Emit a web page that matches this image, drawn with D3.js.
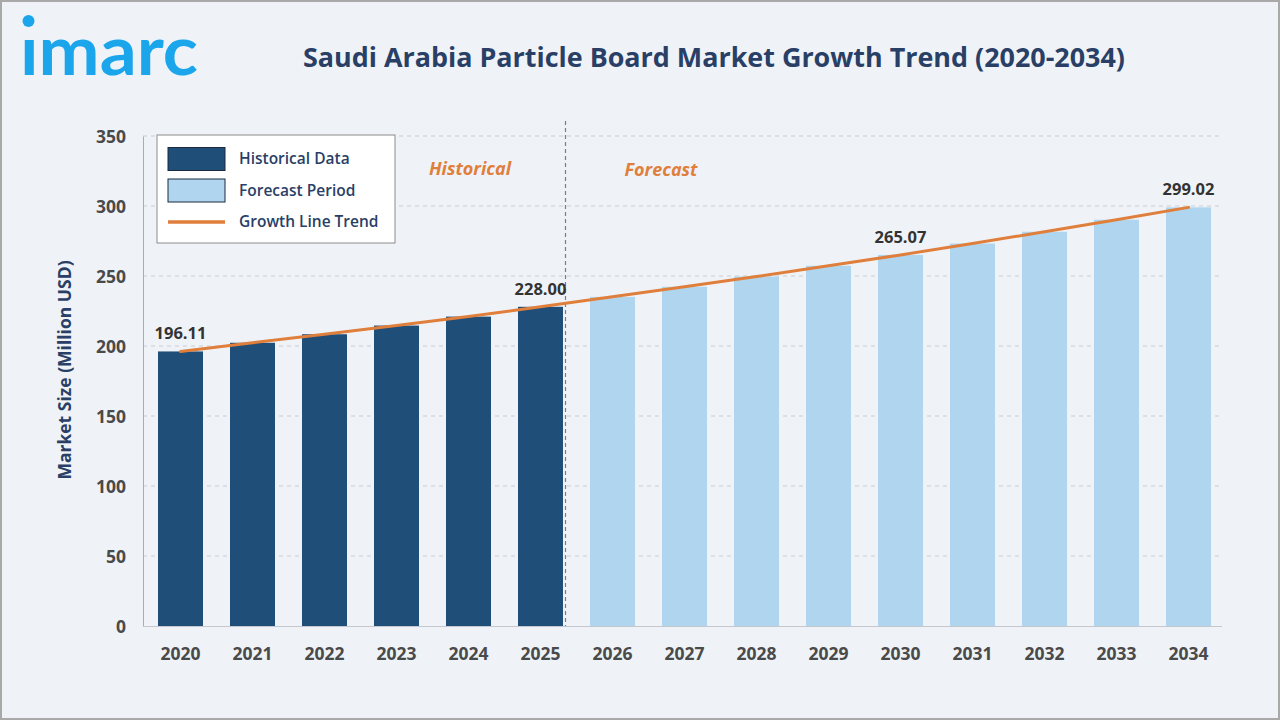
<!DOCTYPE html>
<html>
<head>
  <meta charset="utf-8">
  <title>Saudi Arabia Particle Board Market Growth Trend (2020-2034)</title>
  <script src="https://d3js.org/d3.v7.min.js"></script>
  <style>
    html, body {
      margin: 0;
      padding: 0;
      background: #ffffff;
    }
    svg {
      display: block;
      font-family: "Open Sans", "Noto Sans", sans-serif;
    }
    .grid line {
      stroke: #c9cdd3;
      stroke-dasharray: 4 4;
    }
    .tick-label {
      font-family: "Open Sans", "Noto Sans", sans-serif;
      font-weight: 700;
      fill: #4a4a4a;
      font-size: 17.5px;
    }
  </style>
</head>
<body>
<svg id="chart" width="1280" height="720"></svg>

<script>
  // Données
  const years = ["2020", "2021", "2022", "2023", "2024", "2025", "2026", "2027",
                 "2028", "2029", "2030", "2031", "2032", "2033", "2034"];
  const marketSize = [196.11, 202.3, 208.4, 214.6, 221.0, 228.00, 235.1, 242.3,
                      249.6, 257.3, 265.07, 273.2, 281.6, 290.2, 299.02];
  const historicalYears = ["2020", "2021", "2022", "2023", "2024", "2025"];
  const labelledYears = ["2020", "2025", "2030", "2034"];
  const yTicks = [0, 50, 100, 150, 200, 250, 300, 350];

  const colors = {
    historical: "#1f4e79",
    forecast: "#afd6ee",
    trend: "#e07f3c",
    navy: "#2a3f66"
  };

  const svg = d3.select("#chart");

  // fond + cadre
  svg.append("rect")
     .attr("x", 1).attr("y", 1)
     .attr("width", 1278).attr("height", 718)
     .attr("fill", "#eff3f8")
     .attr("stroke", "#a9a9a9")
     .attr("stroke-width", 2);

  // logo imarc
  const logo = svg.append("g").attr("transform", "translate(20,75)");
  logo.append("text")
      .attr("x", 0).attr("y", 0)
      .attr("font-family", "Lato, sans-serif")
      .attr("font-size", 68)
      .attr("font-weight", 700)
      .attr("textLength", 178)
      .attr("lengthAdjust", "spacingAndGlyphs")
      .attr("fill", "#1ba6ec")
      .text("ımarc");
  logo.append("circle")
      .attr("cx", 8.5).attr("cy", -54).attr("r", 6)
      .attr("fill", "#1ba6ec");

  // titre
  svg.append("text")
     .attr("x", 714).attr("y", 67)
     .attr("text-anchor", "middle")
     .attr("font-size", 26)
     .attr("font-weight", 700)
     .attr("fill", colors.navy)
     .attr("textLength", 822)
     .attr("lengthAdjust", "spacingAndGlyphs")
     .text("Saudi Arabia Particle Board Market Growth Trend (2020-2034)");

  // Zone du graphique
  const plotLeft = 143, plotRight = 1224.5, plotTop = 136, plotBottom = 626;

  const x = d3.scaleBand()
              .domain(years)
              .range([plotLeft + 1.5, plotRight])
              .paddingInner(0.375)
              .paddingOuter(0.1875);

  const y = d3.scaleLinear()
              .domain([0, 350])
              .range([plotBottom, plotTop]);

  // grille
  svg.append("g")
     .attr("class", "grid")
     .selectAll("line")
     .data(yTicks.filter(d => d > 0))
     .join("line")
     .attr("x1", plotLeft).attr("x2", 1222)
     .attr("y1", d => y(d)).attr("y2", d => y(d));

  // axes
  const yAxis = svg.append("g")
     .attr("transform", `translate(${plotLeft},0)`)
     .call(d3.axisLeft(y).tickValues(yTicks).tickSize(0).tickPadding(17));
  yAxis.attr("font-family", null).attr("font-size", null);
  yAxis.select(".domain").attr("stroke", "#a8adb4");
  yAxis.selectAll("text").attr("class", "tick-label").attr("dy", "0.35em");

  const xAxis = svg.append("g")
     .attr("transform", `translate(0,${plotBottom})`)
     .call(d3.axisBottom(x).tickSize(0).tickPadding(22));
  xAxis.attr("font-family", null).attr("font-size", null);
  xAxis.select(".domain").attr("stroke", "#c4c8ce").attr("d", `M${plotLeft},0.5H1222`);
  xAxis.selectAll("text").attr("class", "tick-label");

  // barres
  svg.append("g")
     .selectAll("rect")
     .data(years)
     .join("rect")
     .attr("x", d => x(d))
     .attr("width", x.bandwidth())
     .attr("y", (d, i) => y(marketSize[i]))
     .attr("height", (d, i) => y(0) - y(marketSize[i]))
     .attr("fill", d => historicalYears.includes(d) ? colors.historical : colors.forecast);

  // séparation historique / prévision
  const splitX = x("2025") + x.bandwidth() + 2.5;
  svg.append("line")
     .attr("x1", splitX).attr("x2", splitX)
     .attr("y1", 121).attr("y2", plotBottom)
     .attr("stroke", "#7d7d7d")
     .attr("stroke-width", 1.2)
     .attr("stroke-dasharray", "4 3");

  svg.append("text")
     .attr("x", 470).attr("y", 175)
     .attr("text-anchor", "middle")
     .attr("font-size", 18).attr("font-weight", 700).attr("font-style", "italic")
     .attr("fill", colors.trend)
     .text("Historical");
  svg.append("text")
     .attr("x", 661).attr("y", 176)
     .attr("text-anchor", "middle")
     .attr("font-size", 18).attr("font-weight", 700).attr("font-style", "italic")
     .attr("fill", colors.trend)
     .text("Forecast");

  // ligne de tendance
  const line = d3.line()
                 .x(d => x(d[0]) + x.bandwidth() / 2)
                 .y(d => y(d[1]));
  svg.append("path")
     .datum(years.map((d, i) => [d, marketSize[i]]))
     .attr("fill", "none")
     .attr("stroke", colors.trend)
     .attr("stroke-width", 3)
     .attr("stroke-linecap", "round")
     .attr("d", line);

  // étiquettes de valeurs
  svg.append("g")
     .selectAll("text")
     .data(labelledYears)
     .join("text")
     .attr("x", d => x(d) + x.bandwidth() / 2)
     .attr("y", d => y(marketSize[years.indexOf(d)]) - 12)
     .attr("text-anchor", "middle")
     .attr("font-size", 16.5)
     .attr("font-weight", 700)
     .attr("fill", "#333333")
     .text(d => marketSize[years.indexOf(d)].toFixed(2));

  // titre axe Y
  svg.append("text")
     .attr("transform", `translate(71,${(plotTop + plotBottom) / 2 - 11}) rotate(-90)`)
     .attr("text-anchor", "middle")
     .attr("font-size", 17.5)
     .attr("font-weight", 700)
     .attr("fill", colors.navy)
     .text("Market Size (Million USD)");

  // légende
  const legend = svg.append("g").attr("transform", "translate(157,135)");
  legend.append("rect")
        .attr("width", 238).attr("height", 108)
        .attr("fill", "#ffffff")
        .attr("stroke", "#8c8c8c");
  const legendItems = [
    { label: "Historical Data", type: "rect", color: colors.historical },
    { label: "Forecast Period", type: "rect", color: colors.forecast },
    { label: "Growth Line Trend", type: "line", color: colors.trend }
  ];
  legendItems.forEach((item, i) => {
    const cy = 24 + i * 31.5;
    if (item.type === "rect") {
      legend.append("rect")
            .attr("x", 11).attr("y", cy - 11.5)
            .attr("width", 57).attr("height", 23)
            .attr("fill", item.color)
            .attr("stroke", "#1b2a40");
    } else {
      legend.append("line")
            .attr("x1", 11).attr("x2", 68)
            .attr("y1", cy).attr("y2", cy)
            .attr("stroke", item.color)
            .attr("stroke-width", 3.5);
    }
    legend.append("text")
          .attr("x", 82).attr("y", cy)
          .attr("dy", "0.35em")
          .attr("font-size", 15.5)
          .attr("font-weight", 600)
          .attr("fill", colors.navy)
          .text(item.label);
  });
</script>
</body>
</html>
